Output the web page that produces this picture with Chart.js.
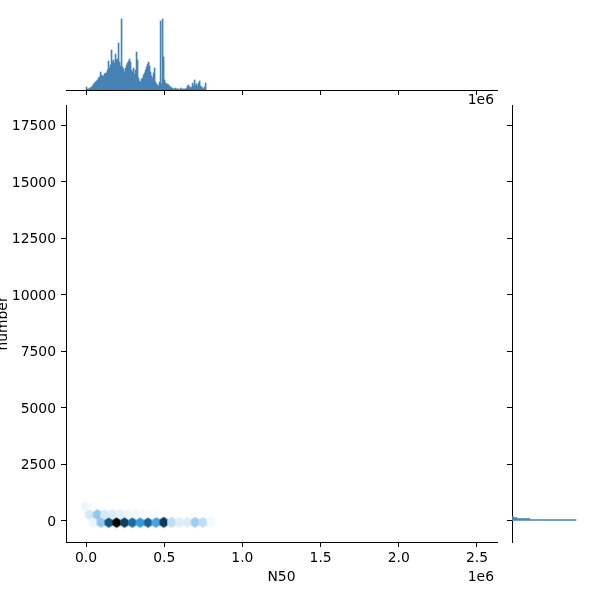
<!DOCTYPE html>
<html lang="en">
<head>
<meta charset="UTF-8" />
<title>N50 vs number</title>
<script src="https://cdn.jsdelivr.net/npm/chart.js"></script>
<style>
  body { margin: 0; background: #fff; }
  .wrap { position: relative; width: 600px; height: 600px; }
  .wrap canvas { position: absolute; left: 0; top: 0; }
</style>
</head>
<body>
<div class="wrap">
  <canvas id="joint" width="600" height="600"></canvas>
  <canvas id="margX" width="600" height="600"></canvas>
  <canvas id="margY" width="600" height="600"></canvas>
</div>
<script>
  // hexbin cells: centre (N50, number) and count
  const hexN50 = [
    45000, 95200, 145400, 195600, 245800, 296000, 346200, 396400,
    446600, 496800, 547000, 597200, 647400, 697600, 747800, 798000,
    20000, 70000, 120000, 170000, 220000, 271000, 321000, 371000, 421000,
    -5000, 45000
  ];
  const hexNumber = [
    -80, -80, -80, -80, -80, -80, -80, -80,
    -80, -80, -80, -80, -80, -80, -80, -80,
    273, 273, 273, 273, 273, 273, 273, 273, 273,
    626, 626
  ];
  const hexCount = [
    4, 25, 70, 100, 78, 62, 47, 66,
    42, 80, 15, 8, 8, 22, 15, 3,
    10, 25, 10, 8, 6, 4, 3, 2, 1.5,
    4, 2
  ];

  // top marginal: histogram of N50
  const n50BinStart = 0;
  const n50BinWidth = 6400;
  const n50Counts = [
    3, 1, 1, 2, 2, 3, 4, 6, 7, 8, 9, 10, 12, 13, 18, 15, 14, 14, 16, 17,
    17, 20, 29, 22, 25, 40, 28, 30, 27, 36, 30, 31, 47, 28, 24, 71, 23, 21, 18, 22,
    25, 27, 29, 31, 28, 20, 18, 22, 16, 20, 38, 30, 12, 9, 8, 11, 12, 15, 17, 20,
    23, 26, 28, 24, 18, 14, 12, 17, 22, 8, 6, 5, 4, 8, 69, 6, 71, 33, 10, 7,
    6, 6, 5, 4, 3, 2, 2, 1, 1, 2, 1, 1, 1, 0, 2, 1, 1, 1, 1, 1,
    2, 4, 5, 3, 2, 3, 7, 4, 10, 5, 6, 4, 7, 9, 4, 3, 2, 1, 3, 7
  ];

  // right marginal: histogram of number
  const numBinStart = 0;
  const numBinWidth = 44;
  const numCounts = [64, 18, 5, 1.5];

  const xTicks = [0, 500000, 1000000, 1500000, 2000000, 2500000];
  const yTicks = [0, 2500, 5000, 7500, 10000, 12500, 15000, 17500];

  const xMin = -128000, xMax = 2628000;
  const yMin = -950, yMax = 18385;
  const hexWidth = 50200;   // N50 units
  const hexHeight = 471;    // number units, vertex to vertex
  const barColor = '#4682b4';

  Chart.defaults.font.family = 'DejaVu Sans';
  Chart.defaults.font.size = 13.9;
  Chart.defaults.color = '#000';

  function hexColor(c) {
    const maxC = Math.max(...hexCount);
    const l = 100 * (1 - c / maxC);
    return `hsl(204.5, 70.6%, ${l.toFixed(1)}%)`;
  }

  const hexCache = {};
  function hexImage(ctx) {
    if (ctx.dataIndex === undefined) return 'circle';
    const sx = ctx.chart.scales.x, sy = ctx.chart.scales.y;
    const w = Math.abs(sx.getPixelForValue(hexWidth) - sx.getPixelForValue(0)) + 0.6;
    const h = Math.abs(sy.getPixelForValue(hexHeight) - sy.getPixelForValue(0)) + 0.6;
    const col = hexColor(hexCount[ctx.dataIndex]);
    const key = col + '|' + w.toFixed(2) + '|' + h.toFixed(2);
    if (!hexCache[key]) {
      const c = document.createElement('canvas');
      c.width = Math.ceil(w) + 2;
      c.height = Math.ceil(h) + 2;
      const g = c.getContext('2d');
      const cx = c.width / 2, cy = c.height / 2;
      g.fillStyle = col;
      g.beginPath();
      g.moveTo(cx, cy - h / 2);
      g.lineTo(cx + w / 2, cy - h / 4);
      g.lineTo(cx + w / 2, cy + h / 4);
      g.lineTo(cx, cy + h / 2);
      g.lineTo(cx - w / 2, cy + h / 4);
      g.lineTo(cx - w / 2, cy - h / 4);
      g.closePath();
      g.fill();
      hexCache[key] = c;
    }
    return hexCache[key];
  }

  function offsetText(yPos) {
    return {
      id: 'offsetText',
      afterDraw(chart) {
        const c = chart.ctx;
        c.save();
        c.font = '13.9px "DejaVu Sans"';
        c.fillStyle = '#000';
        c.textAlign = 'right';
        c.textBaseline = 'middle';
        c.fillText('1e6', chart.chartArea.right - 3, yPos);
        c.restore();
      }
    };
  }

  const setXTicks = s => { s.ticks = xTicks.map(v => ({ value: v })); };
  const setYTicks = s => { s.ticks = yTicks.map(v => ({ value: v })); };
  const tickGrid = { drawOnChartArea: false, tickLength: 5, tickColor: '#000', tickWidth: 1 };
  const spine = { display: true, color: '#000', width: 1 };

  // joint hexbin
  new Chart(document.getElementById('joint'), {
    type: 'scatter',
    data: {
      datasets: [{
        data: hexN50.map((x, i) => ({ x: x, y: hexNumber[i] })),
        pointStyle: hexImage,
        pointRadius: 4
      }]
    },
    options: {
      responsive: false,
      animation: false,
      events: [],
      layout: { padding: { top: 105, right: 103, left: 0, bottom: 0 } },
      plugins: { legend: { display: false }, tooltip: { enabled: false } },
      scales: {
        x: {
          type: 'linear', min: xMin, max: xMax,
          afterFit: s => { s.height = 58; },
          afterBuildTicks: setXTicks,
          grid: tickGrid, border: spine,
          ticks: { callback: v => (v / 1e6).toFixed(1), padding: 3, maxRotation: 0, autoSkip: false },
          title: { display: true, text: 'N50', padding: { top: 0, bottom: 14.6 } }
        },
        y: {
          type: 'linear', min: yMin, max: yMax,
          afterFit: s => { s.width = 66; },
          afterBuildTicks: setYTicks,
          grid: tickGrid, border: spine,
          ticks: { callback: v => String(v), padding: 5, autoSkip: false, labelOffset: 1.5 },
          title: { display: true, text: 'number', padding: { top: -5.4, bottom: 0 } }
        }
      }
    },
    plugins: [offsetText(577)]
  });

  // top marginal
  new Chart(document.getElementById('margX'), {
    type: 'bar',
    data: {
      datasets: [{
        data: n50Counts.map((v, i) => ({ x: n50BinStart + (i + 0.5) * n50BinWidth, y: v })),
        backgroundColor: barColor,
        borderWidth: 0,
        barPercentage: 1,
        categoryPercentage: 1
      }]
    },
    options: {
      responsive: false,
      animation: false,
      events: [],
      layout: { padding: { top: 14, right: 103, left: 66, bottom: 0 } },
      plugins: { legend: { display: false }, tooltip: { enabled: false } },
      scales: {
        x: {
          type: 'linear', min: xMin, max: xMax, offset: false,
          afterFit: s => { s.height = 510; },
          afterBuildTicks: setXTicks,
          grid: { drawOnChartArea: false, tickLength: 5, tickColor: '#000', tickWidth: 1, offset: false },
          border: spine,
          ticks: { display: false }
        },
        y: { display: false, min: 0, max: 76 }
      }
    },
    plugins: [offsetText(100)]
  });

  // right marginal
  new Chart(document.getElementById('margY'), {
    type: 'bar',
    data: {
      datasets: [{
        data: numCounts.map((v, i) => ({ y: numBinStart + (i + 0.5) * numBinWidth, x: v })),
        backgroundColor: barColor,
        borderWidth: 0,
        barPercentage: 1,
        categoryPercentage: 1
      }]
    },
    options: {
      indexAxis: 'y',
      responsive: false,
      animation: false,
      events: [],
      layout: { padding: { top: 105, right: 4, left: 506, bottom: 58 } },
      plugins: { legend: { display: false }, tooltip: { enabled: false } },
      scales: {
        y: {
          type: 'linear', min: yMin, max: yMax, offset: false,
          afterFit: s => { s.width = 6; },
          afterBuildTicks: setYTicks,
          grid: { drawOnChartArea: false, tickLength: 5, tickColor: '#000', tickWidth: 1, offset: false },
          border: spine,
          ticks: { display: false }
        },
        x: { display: false, min: 0, max: 84 }
      }
    }
  });
</script>
</body>
</html>
